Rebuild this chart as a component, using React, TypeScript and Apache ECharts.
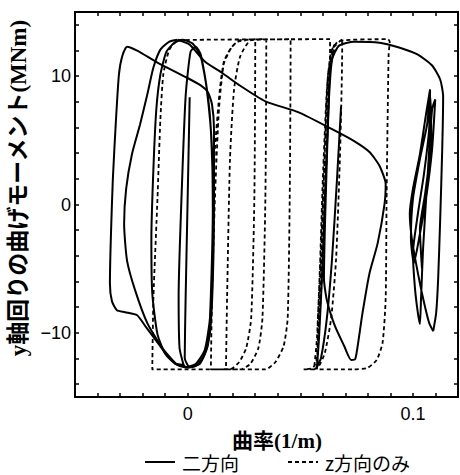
import React, { useEffect, useRef } from "react";
import * as echarts from "echarts";

// ---- axis ticks / labels ----
const xTickValues = [-0.05, -0.04, -0.03, -0.02, -0.01, 0, 0.01, 0.02, 0.03, 0.04, 0.05, 0.06, 0.07, 0.08, 0.09, 0.1, 0.11, 0.12];
const xLabelValues = [0, 0.1];
const yTickValues = [-14, -12, -10, -8, -6, -4, -2, 0, 2, 4, 6, 8, 10, 12, 14];
const yLabelValues = [-10, 0, 10];

const seriesNames = ["二方向", "z方向のみ"];

// ---- 二方向 (solid) ----
const solidInnerLoops = [
  [0.0009, 8.35], [0, 0.44], [-0.0009, -7.31], [-0.0013, -11.96], [0.0009, -12.66], [0.0054, -12.42],
  [0.009, -10.95], [0.0103, -7.08], [0.0112, 0.44], [0.0103, 5.87], [0.009, 8.42], [0.0058, 11.68],
  [0.0036, 12.3], [0.0013, 11.91], [-0.0009, 8.42], [-0.0027, 0.67], [-0.004, -7.08], [-0.0036, -11.18],
  [-0.0018, -12.5], [-0.0054, -12.42], [-0.0099, -11.65], [-0.0134, -10.1], [-0.0157, -6.92],
  [-0.0161, -2.66], [-0.0152, 2.77], [-0.0139, 7.42], [-0.0121, 10.13], [-0.0094, 11.91], [-0.0058, 12.61],
  [-0.0022, 12.84], [0.0022, 12.54], [0.0058, 11.52], [0.0085, 8.97], [0.0108, 4.32], [0.0112, -3.43],
  [0.0099, -8.86], [0.0076, -11.34], [0.0036, -12.42], [-0.0009, -12.66], [-0.0018, -12.5],
];

const solidLeftLoop = [
  [-0.0018, -12.5], [-0.0054, -12.42], [-0.0099, -11.57], [-0.0148, -10.41], [-0.0188, -9.48],
  [-0.0224, -8.63], [-0.0278, -8.39], [-0.0314, -8.24], [-0.0336, -7.54], [-0.0345, -6.15],
  [-0.0341, -2.66], [-0.0332, 1.99], [-0.0318, 6.64], [-0.0305, 10.13], [-0.0291, 11.52], [-0.0269, 12.3],
  [-0.0224, 11.99], [-0.0134, 11.06], [-0.0013, 9.97], [0.0058, 9.28], [0.009, 8.74], [0.0108, 7.81],
  [0.0117, 5.87], [0.0117, 0.44], [0.0112, -5.76], [0.0099, -10.02], [0.0072, -11.8], [0.0036, -12.58],
  [0, -12.73],
];

const solidRise = [
  [0, -12.73], [-0.0045, -12.5], [-0.0112, -11.18], [-0.0179, -9.24], [-0.0233, -6.69], [-0.0269, -4.37],
  [-0.0282, -1.5], [-0.0273, 1.22], [-0.0247, 3.93], [-0.0211, 6.25], [-0.0179, 8.58], [-0.0152, 10.67],
  [-0.0121, 12.07], [-0.0081, 12.69], [-0.0045, 12.84],
];

const solidBigLoop = [
  [-0.0045, 12.84], [0.0009, 12.46], [0.0076, 11.14], [0.0157, 10.21], [0.0224, 9.36], [0.0345, 8.04],
  [0.0493, 7.18], [0.0641, 5.87], [0.0739, 4.94], [0.0807, 4.09], [0.0852, 3.0], [0.0879, 1.6],
  [0.0874, 0.05], [0.0843, -3.05], [0.0807, -5.37], [0.0776, -8.47], [0.0758, -10.64], [0.0744, -12.04],
  [0.0726, -12.11], [0.0695, -11.03], [0.0654, -9.48], [0.0618, -7.46], [0.0605, -5.76], [0.0609, -1.89],
  [0.0618, 3.54], [0.0627, 8.19], [0.0641, 11.29], [0.0672, 12.38], [0.0739, 12.69], [0.0852, 12.61],
  [0.0942, 12.22], [0.1022, 11.68], [0.1085, 10.83], [0.1121, 9.74], [0.1134, 8.42], [0.113, 4.32],
  [0.1121, -1.11], [0.1112, -5.76], [0.1103, -8.47], [0.109, -9.87],
];

const solidScribble = [
  [0.109, -9.87], [0.1072, -9.24], [0.1045, -7.31], [0.1018, -4.98], [0.0995, -2.66], [0.0986, -0.72],
  [0.1, 1.22], [0.1031, 3.93], [0.1058, 7.03], [0.1076, 8.97], [0.1072, 5.87], [0.1049, 2.38],
  [0.1022, -0.72], [0.1, -3.82], [0.1009, -6.53], [0.1022, -8.47], [0.1031, -9.32], [0.1036, -7.31],
  [0.1045, -3.43], [0.1067, 2.77], [0.1085, 7.42], [0.1099, 8.19], [0.1085, 4.32], [0.1058, 0.44],
  [0.1027, -2.66], [0.1004, -4.6], [0.0991, -2.66], [0.1, 0.44], [0.1031, 3.54], [0.1063, 6.25],
  [0.1076, 8.58], [0.1081, 5.09], [0.1054, 0.83], [0.1031, -1.89], [0.104, -4.98],
];

const solidColumn = [
  [0.0681, 7.65], [0.0663, 1.99], [0.0641, -4.21], [0.0618, -8.86], [0.0592, -11.96], [0.0574, -12.66],
  [0.0583, -10.41], [0.0596, -5.76], [0.0609, 0.44], [0.0623, 6.64], [0.0632, 10.52], [0.065, 12.07],
];

// ---- z方向のみ (dashed) ----
const dashedLoops = [
  [0.0112, -0.02], [0.0121, 4.32], [0.0143, 8.97], [0.0161, 11.14], [0.0193, 12.22], [0.0224, 12.69],
  [0.03, 12.88], [0.03, 12.22], [0.0296, 0.44], [0.0282, -8.86], [0.026, -11.18], [0.0229, -12.27],
  [0.0193, -12.8], [0.0103, -12.85], [0.0108, -7.31], [0.0121, 0.44], [0.0139, 7.42], [0.0161, 10.98],
  [0.0197, 12.3], [0.0233, 12.8], [0.0349, 12.88], [0.0349, 12.22], [0.0345, 0.44], [0.0332, -8.86],
  [0.0314, -11.18], [0.0278, -12.42], [0.0233, -12.85], [0.017, -12.85], [0.0175, -7.31], [0.0188, 3.54],
  [0.0206, 8.97], [0.0233, 11.52], [0.0282, 12.8], [0.0457, 12.88], [0.0457, 12.22], [0.0453, 0.44],
  [0.0444, -8.86], [0.0426, -11.03], [0.039, -12.27], [0.0345, -12.85], [-0.0157, -12.85],
  [-0.0152, -7.31], [-0.0134, 0.44], [-0.0121, 6.64], [-0.0108, 10.13], [-0.0081, 12.07], [-0.004, 12.8],
  [0.0632, 12.88], [0.0632, 12.22], [0.0618, 4.32], [0.06, -4.21], [0.0583, -9.63], [0.0574, -11.96],
  [0.0556, -12.73], [0.0515, -12.85], [0.0569, -12.85], [0.0578, -8.86], [0.0592, -3.43], [0.0609, 4.32],
  [0.0623, 9.74], [0.0641, 12.07], [0.0686, 12.88], [0.0686, 12.22], [0.0677, 4.32], [0.0659, -4.21],
  [0.0637, -8.86], [0.0609, -11.57], [0.0583, -12.58], [0.0561, -12.85], [0.0574, -10.41],
  [0.0587, -4.98], [0.06, 1.99], [0.0618, 8.97], [0.0637, 11.91], [0.0672, 12.75], [0.0888, 12.88],
  [0.0897, 12.69], [0.0892, 11.68], [0.0883, 0.44], [0.0879, -7.31], [0.0865, -10.8], [0.0839, -12.11],
  [0.0798, -12.73], [0.0739, -12.85], [0.0574, -12.85], [0.0583, -8.86], [0.0596, -2.66], [0.0609, 4.32],
  [0.0623, 10.13], [0.065, 12.46],
];

const solidSegments = [solidInnerLoops, solidLeftLoop, solidRise, solidBigLoop, solidScribble, solidColumn];

const latin = '"Liberation Sans", Arial, sans-serif';
const titleFont = '"Liberation Serif", "Noto Sans CJK JP", serif';
const legendFont = '"Noto Sans CJK JP", sans-serif';

function fmtX(v: number) {
  if (Math.abs(v) < 1e-9) return "0";
  return String(+v.toFixed(2));
}
function fmtY(v: number) {
  return v < 0 ? "\u2212" + String(-v) : String(v);
}

export default function App() {
  const ref = useRef<HTMLDivElement>(null);
  useEffect(() => {
    document.body.style.margin = "0";
    const chart = echarts.init(ref.current as HTMLDivElement, null, { renderer: "svg" });
    const tickStyle = { color: "#000", width: 1.5 };
    const solidSeries = solidSegments.map((seg) => ({
      type: "line",
      name: seriesNames[0],
      data: seg,
      symbol: "none",
      showSymbol: false,
      smooth: 0.2,
      lineStyle: { color: "#000", width: 2 },
      itemStyle: { color: "#000" },
      z: 3,
    }));
    const hiddenLine = { show: false, onZero: false };
    const option: any = {
      animation: false,
      backgroundColor: "#fff",
      grid: {
        left: 75,
        right: 2,
        top: 12,
        bottom: 78,
        show: true,
        borderColor: "#000",
        borderWidth: 2,
        backgroundColor: "transparent",
      },
      xAxis: [
        {
          type: "value",
          position: "bottom",
          min: -0.05,
          max: 0.12,
          axisLine: hiddenLine,
          splitLine: { show: false },
          axisTick: { show: true, inside: true, length: 4, customValues: xTickValues, lineStyle: tickStyle },
          axisLabel: {
            show: true,
            customValues: xLabelValues,
            formatter: fmtX,
            margin: 8,
            fontSize: 18,
            color: "#000",
            fontFamily: latin,
          },
        },
        {
          type: "value",
          position: "top",
          min: -0.05,
          max: 0.12,
          axisLine: hiddenLine,
          splitLine: { show: false },
          axisTick: { show: true, inside: true, length: 4, customValues: xTickValues, lineStyle: tickStyle },
          axisLabel: { show: false },
        },
      ],
      yAxis: [
        {
          type: "value",
          position: "left",
          min: -15,
          max: 15,
          axisLine: hiddenLine,
          splitLine: { show: false },
          axisTick: { show: true, inside: true, length: 4, customValues: yTickValues, lineStyle: tickStyle },
          axisLabel: {
            show: true,
            customValues: yLabelValues,
            formatter: fmtY,
            margin: 4,
            fontSize: 18,
            color: "#000",
            fontFamily: latin,
          },
        },
        {
          type: "value",
          position: "right",
          min: -15,
          max: 15,
          axisLine: hiddenLine,
          splitLine: { show: false },
          axisTick: { show: true, inside: true, length: 4, customValues: yTickValues, lineStyle: tickStyle },
          axisLabel: { show: false },
        },
      ],
      series: [
        ...solidSeries,
        {
          type: "line",
          name: seriesNames[1],
          data: dashedLoops,
          symbol: "none",
          showSymbol: false,
          smooth: 0.2,
          lineStyle: { color: "#000", width: 1.8, type: [4, 3] },
          itemStyle: { color: "#000" },
          z: 2,
        },
      ],
      graphic: [
        {
          type: "text",
          x: 18,
          y: 188,
          rotation: Math.PI / 2,
          style: {
            text: "y軸回りの曲げモーメント(MNm)",
            font: "bold 23px " + titleFont,
            fill: "#000",
            textAlign: "center",
            textVerticalAlign: "middle",
          },
        },
        {
          type: "text",
          x: 277,
          y: 441,
          style: {
            text: "曲率(1/m)",
            font: "bold 21px " + titleFont,
            fill: "#000",
            textAlign: "center",
            textVerticalAlign: "middle",
          },
        },
        {
          type: "line",
          shape: { x1: 145, y1: 462, x2: 175, y2: 462 },
          style: { stroke: "#000", lineWidth: 2 },
        },
        {
          type: "text",
          x: 182,
          y: 462,
          style: {
            text: seriesNames[0],
            font: "19px " + legendFont,
            fill: "#000",
            textAlign: "left",
            textVerticalAlign: "middle",
          },
        },
        {
          type: "line",
          shape: { x1: 288, y1: 462, x2: 318, y2: 462 },
          style: { stroke: "#000", lineWidth: 1.8, lineDash: [4, 3] },
        },
        {
          type: "text",
          x: 325,
          y: 462,
          style: {
            text: seriesNames[1],
            font: "19px " + legendFont,
            fill: "#000",
            textAlign: "left",
            textVerticalAlign: "middle",
          },
        },
      ],
    };
    chart.setOption(option);
    return () => chart.dispose();
  }, []);
  return <div ref={ref} style={{ width: 460, height: 475 }} />;
}
